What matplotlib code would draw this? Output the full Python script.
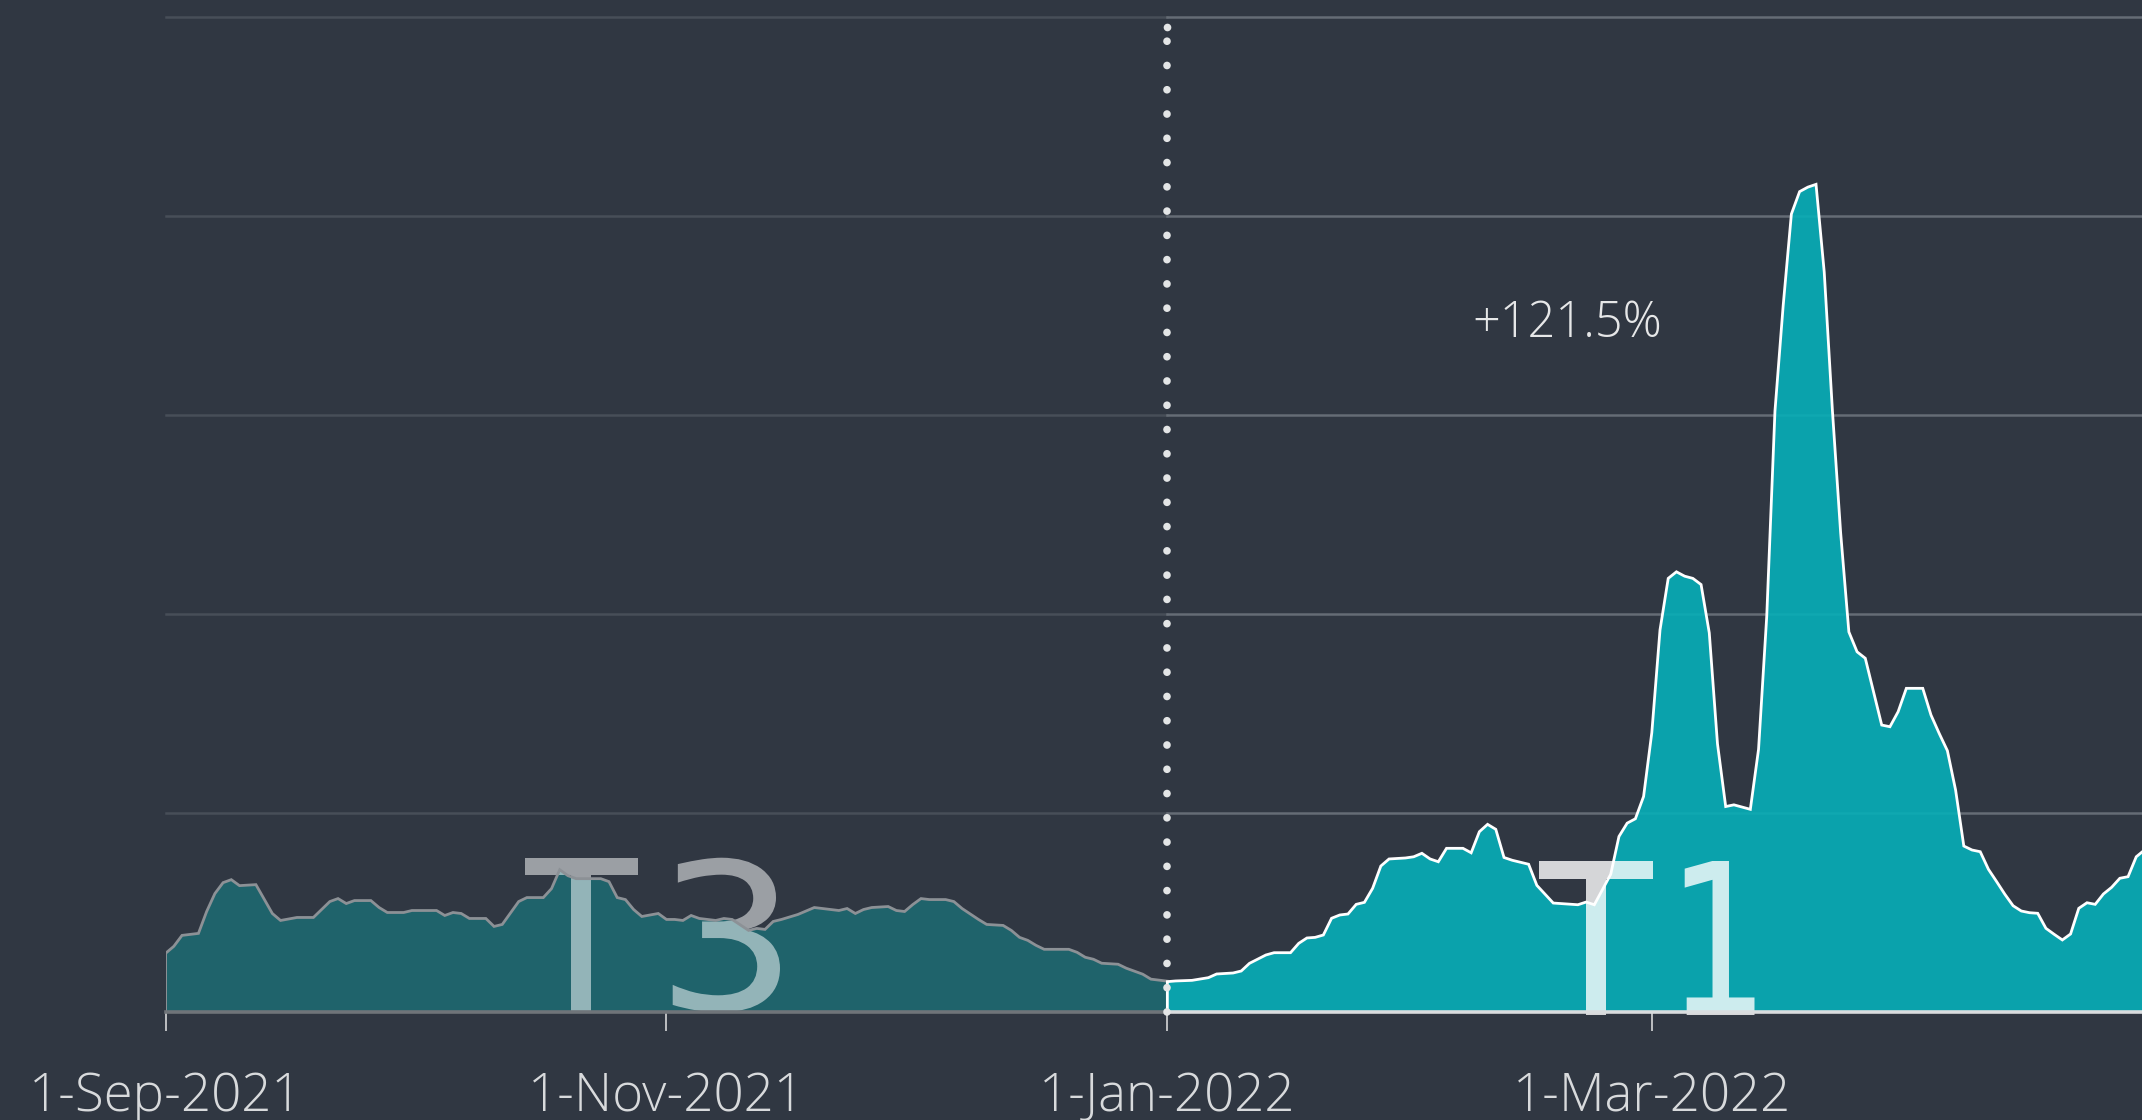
import numpy as np
import pandas as pd
import matplotlib
matplotlib.use('Agg')
import matplotlib.pyplot as plt
import matplotlib.dates as mdates
import matplotlib.transforms as mtransforms
from matplotlib.font_manager import FontProperties
from matplotlib.textpath import TextPath
from matplotlib.patches import PathPatch
from matplotlib.path import Path

W, H, DPI = 2142, 1120, 100

BG = '#303742'
T3_FILL = '#1f636b'
T3_LINE = '#8c9196'
T1_FILL = '#06afb8'
T1_LINE = '#ffffff'
GRID_OLD = '#474e58'
GRID_NEW = '#656c75'
TEXT = '#d8dadc'

# T3 (Sep-Dec 2021): day offset from start, value
T3_START = '2021-09-01'
t3_day = [0, 1, 2, 4, 5, 6, 7, 8, 9, 11, 13, 14, 16, 18, 20, 21, 22, 23, 25, 26,
          27, 29, 30, 32, 33, 34, 35, 36, 37, 39, 40, 41, 43, 44, 46, 47, 48, 49, 50, 51,
          53, 54, 55, 56, 57, 58, 60, 61, 62, 63, 64, 65, 67, 68, 69, 71, 72, 73, 74, 75,
          77, 79, 80, 82, 83, 84, 85, 86, 88, 89, 90, 91, 92, 93, 95, 96, 97, 99, 100, 102,
          103, 104, 105, 106, 107, 110, 111, 112, 113, 114, 116, 117, 119, 120, 122]
t3_val = [5.9, 6.6, 7.7, 7.9, 10.1, 11.9, 13.0, 13.3, 12.7, 12.8,
          9.9, 9.2, 9.5, 9.5, 11.1, 11.4, 10.9, 11.2, 11.2, 10.5,
          10.0, 10.0, 10.2, 10.2, 10.2, 9.7, 10.0, 9.9, 9.4, 9.4,
          8.6, 8.8, 11.1, 11.5, 11.5, 12.4, 14.3, 13.7, 13.4, 13.4,
          13.4, 13.1, 11.5, 11.3, 10.3, 9.6, 9.9, 9.3, 9.3, 9.2,
          9.7, 9.4, 9.2, 9.4, 9.3, 8.2, 8.4, 8.3, 9.1, 9.3,
          9.8, 10.5, 10.4, 10.2, 10.4, 9.9, 10.3, 10.5, 10.6, 10.2,
          10.1, 10.8, 11.4, 11.3, 11.3, 11.1, 10.4, 9.3, 8.8, 8.7,
          8.2, 7.5, 7.2, 6.7, 6.3, 6.3, 6.0, 5.5, 5.3, 4.9,
          4.8, 4.4, 3.8, 3.3, 3.1]

# T1 (Jan-Apr 2022)
T1_START = '2022-01-01'
t1_day = [0, 1, 3, 5, 6, 8, 9, 10, 12, 13, 15, 16, 17, 18, 19, 20, 21, 22, 23, 24,
          25, 26, 27, 29, 30, 31, 32, 33, 34, 36, 37, 38, 39, 40, 41, 42, 44, 45, 47, 50,
          51, 52, 54, 55, 56, 57, 58, 59, 60, 61, 62, 63, 64, 65, 66, 67, 68, 69, 71, 72,
          73, 74, 75, 76, 77, 78, 79, 80, 81, 82, 83, 84, 85, 87, 88, 89, 90, 92, 93, 94,
          95, 96, 97, 98, 99, 100, 101, 102, 103, 104, 105, 106, 107, 108, 109, 110, 111, 112, 113, 114,
          115, 116, 117, 118, 119]
t1_val = [3.05, 3.12, 3.18, 3.45, 3.82, 3.92, 4.12, 4.89, 5.73, 5.96,
          5.96, 6.9, 7.44, 7.5, 7.74, 9.42, 9.75, 9.85, 10.82, 11.02,
          12.43, 14.67, 15.38, 15.48, 15.6, 15.95, 15.38, 15.1, 16.45, 16.45,
          16.0, 18.12, 18.86, 18.36, 15.53, 15.25, 14.85, 12.73, 10.95, 10.78,
          11.05, 10.78, 13.85, 17.64, 18.98, 19.42, 21.66, 28.07, 38.4, 43.58,
          44.24, 43.8, 43.58, 42.96, 38.1, 26.95, 20.65, 20.82, 20.37, 26.4,
          39.8, 60.4, 71.0, 80.2, 82.45, 82.9, 83.18, 74.36, 60.4, 48.15,
          38.2, 36.2, 35.55, 28.84, 28.67, 30.18, 32.53, 32.53, 29.85, 28.0,
          26.26, 22.3, 16.68, 16.28, 16.11, 14.34, 13.1, 11.83, 10.68, 10.15,
          9.98, 9.92, 8.41, 7.81, 7.24, 7.84, 10.42, 10.98, 10.82, 11.86,
          12.53, 13.44, 13.6, 15.6, 16.28]

grid_levels = [20, 40, 60, 80, 100]
tick_dates = ['2021-09-01', '2021-11-01', '2022-01-01', '2022-03-01']
tick_labels = ['1-Sep-2021', '1-Nov-2021', '1-Jan-2022', '1-Mar-2022']
SPLIT = '2022-01-01'
X_END_DAYS = 240.7
NOTE = '+121.5%'


def to_num(start, days):
    return mdates.date2num((pd.Timestamp(start) + pd.to_timedelta(days, unit='D')).to_numpy())


def big_glyph(ax, ch, box, alpha, font):
    """Glyph stretched into an image-pixel box (x0, x1, ytop, ybottom)."""
    x0, x1, y0, y1 = box
    p = TextPath((0, 0), ch, size=100, prop=font)
    ext = p.get_extents()
    v = p.vertices.copy()
    u = (v[:, 0] - ext.x0) / ext.width
    w = (v[:, 1] - ext.y0) / ext.height
    fx = (x0 + u * (x1 - x0)) / W
    fy = 1 - (y1 - w * (y1 - y0)) / H
    patch = PathPatch(Path(np.column_stack([fx, fy]), p.codes), transform=ax.figure.transFigure,
                      fc='white', ec='none', alpha=alpha, zorder=2)
    ax.add_patch(patch)
    patch.set_clip_on(False)


fig = plt.figure(figsize=(W / DPI, H / DPI), dpi=DPI, facecolor=BG)
ymax = 101.5
px_per_unit = 199 / 20
top_px = 1012 - ymax * px_per_unit
ax = fig.add_axes([165.6 / W, (H - 1012) / H, 1 - 165.6 / W, (1012 - top_px) / H])
ax.set_facecolor(BG)

x3 = to_num(T3_START, t3_day)
x1 = to_num(T1_START, t1_day)
xs = mdates.date2num(pd.Timestamp(SPLIT))
x_left = mdates.date2num(pd.Timestamp(T3_START))
x_right = x_left + X_END_DAYS

# grid, dim before the split, brighter after
for g in grid_levels:
    ax.plot([x_left, xs], [g, g], color=GRID_OLD, lw=1.8, zorder=0.5, clip_on=False)
    ax.plot([xs, x_right], [g, g], color=GRID_NEW, lw=1.8, zorder=0.5, clip_on=False)

ax.fill_between(x3, 0, t3_val, color=T3_FILL, lw=0, zorder=1)
ax.fill_between(x1, 0, t1_val, color=T1_FILL, alpha=0.9, lw=0, zorder=1)

gfont = FontProperties(family='DejaVu Sans Mono')
big_glyph(ax, 'T', (524.5, 638, 857.7, 1012), 0.52, gfont)
big_glyph(ax, '3', (672.7, 780, 857.7, 1012.3), 0.52, gfont)
big_glyph(ax, 'T', (1538.5, 1652.8, 861, 1015), 0.8, gfont)
big_glyph(ax, '1', (1684.7, 1754.5, 861, 1015), 0.8, gfont)

ax.plot(np.r_[x3[0], x3], np.r_[0, t3_val], color=T3_LINE, lw=2.0, zorder=3,
        solid_joinstyle='miter')
ax.plot(np.r_[x1[0], x1], np.r_[0, t1_val], color=T1_LINE, lw=2.0, zorder=3,
        solid_joinstyle='miter')

# baseline
ax.plot([x_left, xs], [0, 0], color='#6f7479', lw=2.6, zorder=4, clip_on=False)
ax.plot([xs, x_right], [0, 0], color='#d9dcde', lw=2.6, zorder=4, clip_on=False)

# dotted divider (plus the end dot at the top)
ax.plot([xs, xs], [0, 99.0], color='#e3e5e6', lw=5.5, linestyle=(0, (0.01, 3.167)),
        dash_capstyle='round', zorder=5, clip_on=False)
ax.plot([xs], [99.0], 'o', ms=5.5, mew=0, color='#e3e5e6', zorder=5, clip_on=False)

ax.set_xlim(x_left, x_right)
ax.set_ylim(0, ymax)
for s in ax.spines.values():
    s.set_visible(False)
ax.set_yticks([])
tick_x = mdates.date2num(pd.to_datetime(tick_dates).to_numpy())
ax.set_xticks(tick_x)
ax.set_xticklabels([''] * len(tick_x))
ax.tick_params(axis='x', direction='out', length=13.5, width=1.3, color='#c8cacc')

lab_font = FontProperties(family='Open Sans', weight='light', size=38)
lab_tr = mtransforms.offset_copy(ax.get_xaxis_transform(), fig=fig, y=-99, units='dots')
for x, lab in zip(tick_x, tick_labels):
    ax.text(x, 0, lab, transform=lab_tr, ha='center', va='baseline',
            fontproperties=lab_font, color=TEXT, clip_on=False)

note_font = FontProperties(family='Open Sans', weight='light', size=35)
fig.text(1567 / W, 1 - 337 / H, NOTE, ha='center', va='baseline',
         fontproperties=note_font, color='#e6e7e8')

fig.savefig('out.png', dpi=DPI, facecolor=BG)
